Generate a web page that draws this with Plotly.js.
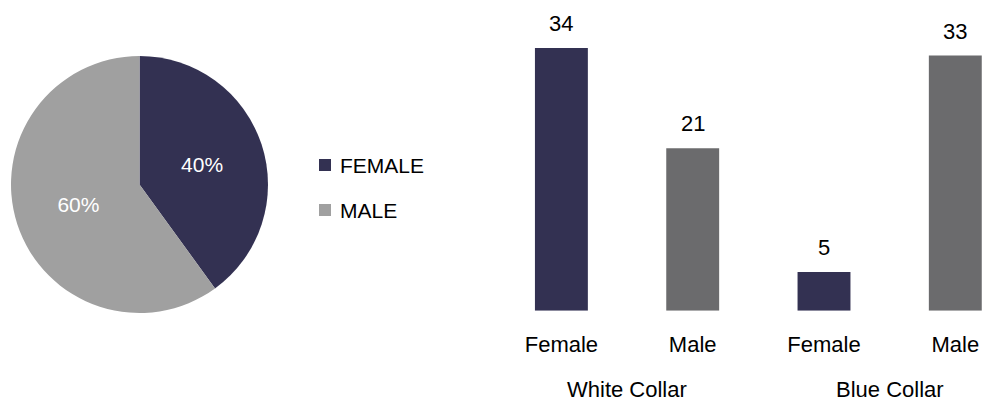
<!DOCTYPE html>
<html>
<head>
<meta charset="utf-8">
<script src="https://cdn.plot.ly/plotly-3.0.1.min.js"></script>
<style>html,body{margin:0;padding:0;background:#fff}#chart{width:988px;height:405px}</style>
</head>
<body>
<div id="chart"></div>
<script>
// Pie data
const pieLabels = ['FEMALE', 'MALE'];
const pieValues = [40, 60];

// Bar data
const barGroups = ['White Collar', 'White Collar', 'Blue Collar', 'Blue Collar'];
const barGenders = ['Female', 'Male', 'Female', 'Male'];
const barValues = [34, 21, 5, 33];

const NAVY = '#333152';
const PIE_GRAY = '#a0a0a0';
const BAR_GRAY = '#6b6b6d';
const FONT = 'Liberation Sans, Arial, sans-serif';
const W = 988, H = 405;
const px = v => v / W;
const py = v => 1 - v / H;

const barX = barGenders.map((_, i) => i);
const barColors = barGenders.map(g => g === 'Female' ? NAVY : BAR_GRAY);

const pie = {
  type: 'pie',
  labels: pieLabels,
  values: pieValues,
  sort: false,
  direction: 'clockwise',
  rotation: 0,
  marker: {colors: [NAVY, PIE_GRAY], line: {width: 0}},
  textinfo: 'percent',
  textposition: 'inside',
  insidetextorientation: 'horizontal',
  textfont: {family: FONT, size: 21, color: '#ffffff'},
  domain: {x: [px(11), px(268)], y: [py(313.5), py(55.5)]},
  showlegend: false,
  hoverinfo: 'label+percent'
};

const bars = {
  type: 'bar',
  x: barX,
  y: barValues,
  width: 0.403,
  marker: {color: barColors, line: {width: 0}},
  showlegend: false,
  hoverinfo: 'y'
};

const annotations = [];
// value labels
barX.forEach((x, i) => {
  annotations.push({
    xref: 'x', yref: 'y', x: x, y: barValues[i],
    text: String(barValues[i]), showarrow: false,
    yanchor: 'bottom', yshift: 10,
    font: {family: FONT, size: 22, color: '#000'}
  });
});
// group labels
const uniqueGroups = [...new Set(barGroups)];
uniqueGroups.forEach(g => {
  const idx = barX.filter((_, i) => barGroups[i] === g);
  const mid = idx.reduce((a, b) => a + b, 0) / idx.length;
  annotations.push({
    xref: 'x', yref: 'paper', x: mid, y: py(389),
    text: g, showarrow: false, yanchor: 'middle',
    font: {family: FONT, size: 22, color: '#000'}
  });
});
// legend (manual)
const legendColors = [NAVY, PIE_GRAY];
const legendY = [165, 210];
const shapes = [];
pieLabels.forEach((lab, i) => {
  shapes.push({
    type: 'rect', xref: 'paper', yref: 'paper',
    x0: px(319), x1: px(331), y0: py(legendY[i] + 6), y1: py(legendY[i] - 6),
    fillcolor: legendColors[i], line: {width: 0}
  });
  annotations.push({
    xref: 'paper', yref: 'paper', x: px(338), y: py(legendY[i]),
    xanchor: 'left', yanchor: 'middle', text: lab, showarrow: false,
    font: {family: FONT, size: 21, color: '#000'}
  });
});

const layout = {
  width: W, height: H,
  margin: {l: 0, r: 0, t: 0, b: 0},
  paper_bgcolor: '#ffffff',
  plot_bgcolor: '#ffffff',
  showlegend: false,
  font: {family: FONT, color: '#000'},
  xaxis: {
    domain: [px(495.75), 1],
    range: [-0.5, 3.249],
    tickvals: barX,
    ticktext: barGenders,
    ticks: '',
    showgrid: false, zeroline: false, showline: false,
    tickfont: {family: FONT, size: 22, color: '#000'},
    ticklabelstandoff: 18,
    fixedrange: true
  },
  yaxis: {
    domain: [py(310.7), py(10)],
    range: [0, 38.9],
    visible: false,
    fixedrange: true
  },
  annotations: annotations,
  shapes: shapes
};

Plotly.newPlot('chart', [pie, bars], layout, {displayModeBar: false, staticPlot: true});
</script>
</body>
</html>
